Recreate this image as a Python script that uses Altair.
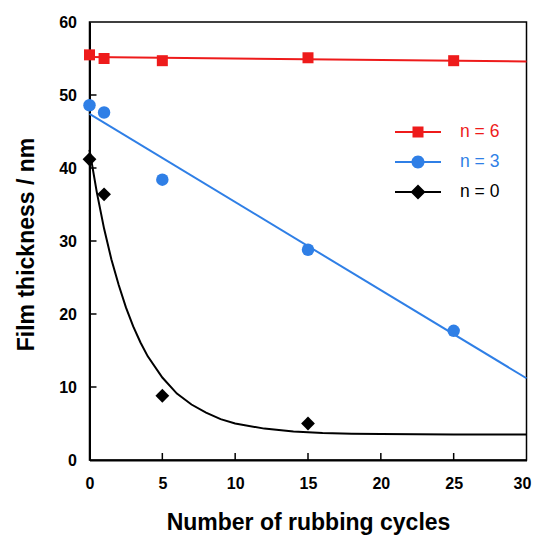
import altair as alt
import pandas as pd

# ---------------- data ----------------
series = ["n = 6", "n = 3", "n = 0"]
colors = ["#ee1b1b", "#2f7fe6", "#000000"]
shapes = ["square", "circle", "diamond"]
point_sizes = [121, 190, 250]

cycles_n6 = [0, 1, 5, 15, 25]
thick_n6 = [55.5, 55.0, 54.7, 55.1, 54.7]
cycles_n3 = [0, 1, 5, 15, 25]
thick_n3 = [48.6, 47.6, 38.4, 28.8, 17.7]
cycles_n0 = [0, 1, 5, 15]
thick_n0 = [41.2, 36.4, 8.8, 5.0]

# fitted lines / curve
fit_x = [0, 30]
fit_n6 = [55.2, 54.6]
fit_n3 = [47.4, 11.2]
curve_x = [0, 0.5, 1, 1.5, 2, 2.5, 3, 3.5, 4, 5, 6, 7, 8, 9, 10, 12, 14, 16, 18, 20, 25, 30]
curve_n0 = [42.5, 36.7, 31.7, 27.5, 24.0, 20.9, 18.3, 16.1, 14.2, 11.3, 9.1, 7.6,
            6.5, 5.6, 5.0, 4.3, 3.9, 3.7, 3.6, 3.55, 3.5, 3.5]

x_ticks = [0, 5, 10, 15, 20, 25, 30]
y_ticks = [0, 10, 20, 30, 40, 50, 60]

# legend symbols: a short line through the marker
legend_paths = [
    "M-2.3,-0.1H2.3V0.1H-2.3Z M-0.55,-0.55H0.55V0.55H-0.55Z",
    "M-2.3,-0.1H2.3V0.1H-2.3Z M0.65,0A0.65,0.65 0 1 1 -0.65,0A0.65,0.65 0 1 1 0.65,0Z",
    "M-2.3,-0.1H2.3V0.1H-2.3Z M0,-0.75L0.75,0L0,0.75L-0.75,0Z",
]

# ---------------- frames ----------------
pts = pd.DataFrame(
    {"series": [series[0]] * len(cycles_n6) + [series[1]] * len(cycles_n3) + [series[2]] * len(cycles_n0),
     "x": cycles_n6 + cycles_n3 + cycles_n0,
     "y": thick_n6 + thick_n3 + thick_n0})

fits = pd.DataFrame(
    {"series": [series[0]] * len(fit_x) + [series[1]] * len(fit_x) + [series[2]] * len(curve_x),
     "x": fit_x + fit_x + curve_x,
     "y": fit_n6 + fit_n3 + curve_n0})

xtick_df = pd.DataFrame({"v": x_ticks[1:-1]})
ytick_df = pd.DataFrame({"v": y_ticks[1:-1]})

FONT = "Liberation Sans"

x_scale = alt.Scale(domain=[x_ticks[0], x_ticks[-1]], nice=False, zero=False)
y_scale = alt.Scale(domain=[y_ticks[0], y_ticks[-1]], nice=False, zero=False)

x_axis = alt.Axis(values=x_ticks, ticks=False, grid=False, domainColor="black", domainWidth=2,
                  labelFont=FONT, labelFontSize=16, labelFontWeight="bold", labelColor="black",
                  labelPadding=15, labelFlush=False, labelOverlap=False,
                  labelOffset={"expr": f"datum.value === {x_ticks[-1]} ? -4.5 : 0"},
                  title="Number of rubbing cycles", titleFont=FONT, titleFontSize=23,
                  titleFontWeight="bold", titleColor="black", titleY=69.5,
                  titleBaseline="alphabetic")
y_axis = alt.Axis(values=y_ticks, ticks=False, grid=False, domainColor="black", domainWidth=2,
                  labelFont=FONT, labelFontSize=16, labelFontWeight="bold", labelColor="black",
                  labelPadding=13, labelFlush=False, labelOverlap=False, labelBaseline="middle",
                  title="Film thickness / nm", titleFont=FONT, titleFontSize=23,
                  titleFontWeight="bold", titleColor="black", titleX=-56.5, titleY=222,
                  titleAlign="center", titleBaseline="alphabetic")

color_expr = ""
for s, c in zip(series[:-1], colors[:-1]):
    color_expr += f"datum.value === '{s}' ? '{c}' : "
color_expr += f"'{colors[-1]}'"

legend_props = dict(title=None, orient="none", legendX=318.5, legendY=100, direction="vertical",
                    symbolSize=400, symbolStrokeWidth=0, symbolOpacity=1, padding=0,
                    labelFont=FONT, labelFontSize=17.5, labelColor={"expr": color_expr},
                    labelOffset=32, rowPadding=11)

lines = alt.Chart(fits).mark_line(strokeWidth=2).encode(
    x=alt.X("x:Q", scale=x_scale, axis=x_axis),
    y=alt.Y("y:Q", scale=y_scale, axis=y_axis),
    color=alt.Color("series:N", scale=alt.Scale(domain=series, range=colors), legend=None),
    detail="series:N",
    order="x:Q",
)

points = alt.Chart(pts).mark_point(filled=True, opacity=1).encode(
    x=alt.X("x:Q", scale=x_scale),
    y=alt.Y("y:Q", scale=y_scale),
    color=alt.Color("series:N", scale=alt.Scale(domain=series, range=colors), legend=None),
    shape=alt.Shape("series:N", scale=alt.Scale(domain=series, range=shapes), legend=None),
    size=alt.Size("series:N", scale=alt.Scale(domain=series, range=point_sizes), legend=None),
)

xticks = alt.Chart(xtick_df).mark_rule(color="black", strokeWidth=1.5).encode(
    x=alt.X("v:Q", scale=x_scale), y=alt.value(438), y2=alt.value(431))
yticks = alt.Chart(ytick_df).mark_rule(color="black", strokeWidth=1.5).encode(
    y=alt.Y("v:Q", scale=y_scale), x=alt.value(0), x2=alt.value(7))

legend_layer = alt.Chart(pts).transform_filter("false").mark_point(filled=True).encode(
    x=alt.X("x:Q", scale=x_scale),
    y=alt.Y("y:Q", scale=y_scale),
    color=alt.Color("series:N", scale=alt.Scale(domain=series, range=colors),
                    legend=alt.Legend(**legend_props)),
    shape=alt.Shape("series:N", scale=alt.Scale(domain=series, range=legend_paths),
                    legend=alt.Legend(**legend_props)),
)

chart = alt.layer(lines, points, xticks, yticks, legend_layer).resolve_scale(
    color="independent", shape="independent", size="independent"
).properties(
    width=437, height=438,
    padding={"left": 81.5, "top": 14, "right": 5.5, "bottom": 75},
    autosize=alt.AutoSizeParams(type="none"),
    background="white",
).configure_view(stroke="black", strokeWidth=1.5)

chart.save("out.html", embed_options={"renderer": "svg", "actions": False})
